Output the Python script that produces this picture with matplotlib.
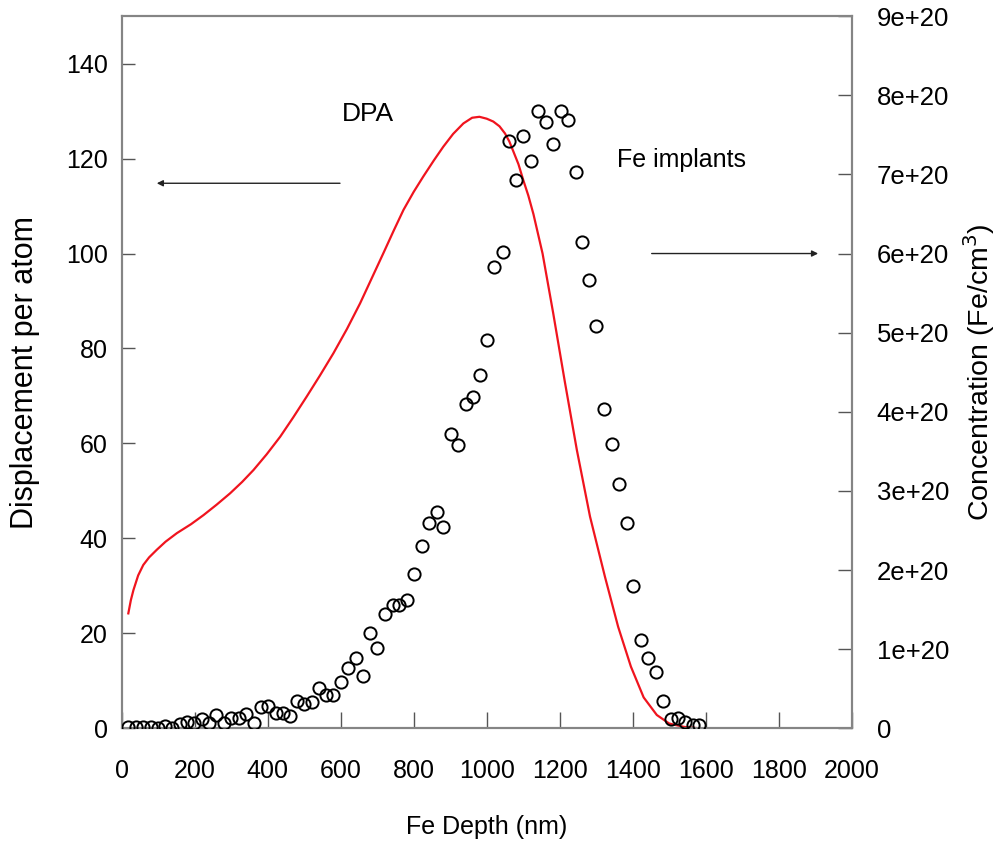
import matplotlib
matplotlib.use('Agg')
import matplotlib.pyplot as plt
from matplotlib.ticker import FixedLocator, FuncFormatter

plt.rcParams['font.family'] = ['Liberation Sans', 'DejaVu Sans']

# Fe implant concentration (symbols), units of 1e20 Fe/cm^3
depth_fe = [18, 39, 58, 79, 98, 119, 139, 160, 180, 199,
            219, 239, 258, 279, 300, 320, 341, 361, 381, 402,
            422, 441, 461, 481, 500, 521, 541, 560, 580, 600,
            619, 641, 660, 680, 700, 721, 742, 761, 781, 800,
            822, 842, 863, 879, 901, 920, 943, 962, 982, 1002,
            1021, 1044, 1060, 1081, 1100, 1121, 1141, 1162, 1182, 1203,
            1222, 1244, 1262, 1281, 1299, 1321, 1342, 1362, 1383, 1402,
            1423, 1443, 1464, 1484, 1504, 1525, 1543, 1564, 1582]
conc_fe = [0.021, 0.021, 0.021, 0.021, 0.0, 0.03, 0.0, 0.054, 0.084, 0.072,
           0.114, 0.063, 0.168, 0.063, 0.126, 0.126, 0.18, 0.072, 0.264, 0.282,
           0.192, 0.192, 0.15, 0.348, 0.306, 0.336, 0.504, 0.42, 0.42, 0.588,
           0.756, 0.882, 0.66, 1.2, 1.02, 1.446, 1.56, 1.554, 1.626, 1.95,
           2.304, 2.598, 2.736, 2.544, 3.714, 3.576, 4.098, 4.182, 4.464, 4.908,
           5.832, 6.024, 7.422, 6.924, 7.488, 7.164, 7.806, 7.668, 7.386, 7.806,
           7.686, 7.026, 6.15, 5.664, 5.082, 4.032, 3.594, 3.09, 2.598, 1.8,
           1.122, 0.894, 0.714, 0.348, 0.12, 0.126, 0.078, 0.042, 0.042]

# DPA curve (red line)
depth_dpa = [18, 25, 32, 45, 59, 75, 96, 120, 151, 190,
             224, 260, 297, 330, 361, 397, 434, 470, 507, 543,
             580, 617, 653, 685, 717, 745, 772, 800, 826, 855,
             881, 908, 936, 960, 980, 1000, 1018, 1035, 1050, 1062,
             1073, 1087, 1100, 1114, 1128, 1153, 1182, 1214, 1247, 1283,
             1324, 1360, 1395, 1430, 1466, 1500, 1540, 1582]
dpa = [24.2, 27.0, 29.1, 32.2, 34.4, 36.0, 37.6, 39.3, 41.1, 43.0,
       44.9, 47.1, 49.5, 51.9, 54.4, 57.7, 61.4, 65.5, 69.9, 74.3,
       79.0, 84.1, 89.5, 94.8, 100.1, 104.8, 109.2, 113.0, 116.2, 119.6,
       122.5, 125.2, 127.4, 128.6, 128.8, 128.4, 127.8, 126.8, 125.3, 123.6,
       121.5, 118.8, 115.5, 112.2, 108.3, 100.0, 87.5, 73.0, 58.6, 44.6,
       31.9, 21.4, 13.0, 6.5, 2.8, 1.0, 0.3, 0.0]

x_ticks = [0, 200, 400, 600, 800, 1000, 1200, 1400, 1600, 1800, 2000]
left_ticks = [0, 20, 40, 60, 80, 100, 120, 140]
right_ticks = [0, 1e20, 2e20, 3e20, 4e20, 5e20, 6e20, 7e20, 8e20, 9e20]

fig = plt.figure(figsize=(10.02, 8.5), dpi=100)
ax = fig.add_axes([0.1215, 0.1432, 0.7285, 0.8378])
ax2 = ax.twinx()

spine_col = '#858585'
for a in (ax, ax2):
    for s in a.spines.values():
        s.set_color(spine_col)
        s.set_linewidth(1.5)

ax.plot(depth_dpa, dpa, color='#f0141e', lw=1.6, zorder=3)
ax2.plot(depth_fe, [c * 1e20 for c in conc_fe], 'o', ms=8.8, mfc='none',
         mec='black', mew=1.4, zorder=4)

ax.set_xlim(0, 2000)
ax.set_ylim(0, 150)
ax2.set_ylim(0, 9e20)
ax.xaxis.set_major_locator(FixedLocator(x_ticks))
ax.yaxis.set_major_locator(FixedLocator(left_ticks))
ax2.yaxis.set_major_locator(FixedLocator(right_ticks))
ax2.yaxis.set_major_formatter(FuncFormatter(
    lambda v, p: '0' if v == 0 else '%de+20' % round(v / 1e20)))

ax.tick_params(axis='x', direction='in', length=11.5, width=1.0, color='#555555',
               labelsize=18, pad=22, top=False)
ax.tick_params(axis='y', direction='in', length=9, width=1.0, color='#555555',
               labelsize=18, pad=10)
ax2.tick_params(axis='y', direction='in', length=10, width=1.0, color='#555555',
                labelsize=18.5, pad=18)

ax.set_xlabel('Fe Depth (nm)', fontsize=18, labelpad=23)
ax.set_ylabel('Displacement per atom', fontsize=22, labelpad=19)
ax2.set_ylabel('Concentration (Fe/cm$^3$)', fontsize=20.5, rotation=90, labelpad=9)

ax.text(603, 129.4, 'DPA', fontsize=19, va='center', ha='left')
ax.text(1356, 119.8, 'Fe implants', fontsize=18, va='center', ha='left')
ax.annotate('', xy=(96, 114.8), xytext=(598, 114.8),
            arrowprops=dict(arrowstyle='-|>', color='#222222', lw=1.0,
                            mutation_scale=9, shrinkA=0, shrinkB=0))
ax.annotate('', xy=(1908, 100), xytext=(1452, 100),
            arrowprops=dict(arrowstyle='-|>', color='#222222', lw=1.0,
                            mutation_scale=9, shrinkA=0, shrinkB=0))

fig.savefig('out.png', dpi=100)
